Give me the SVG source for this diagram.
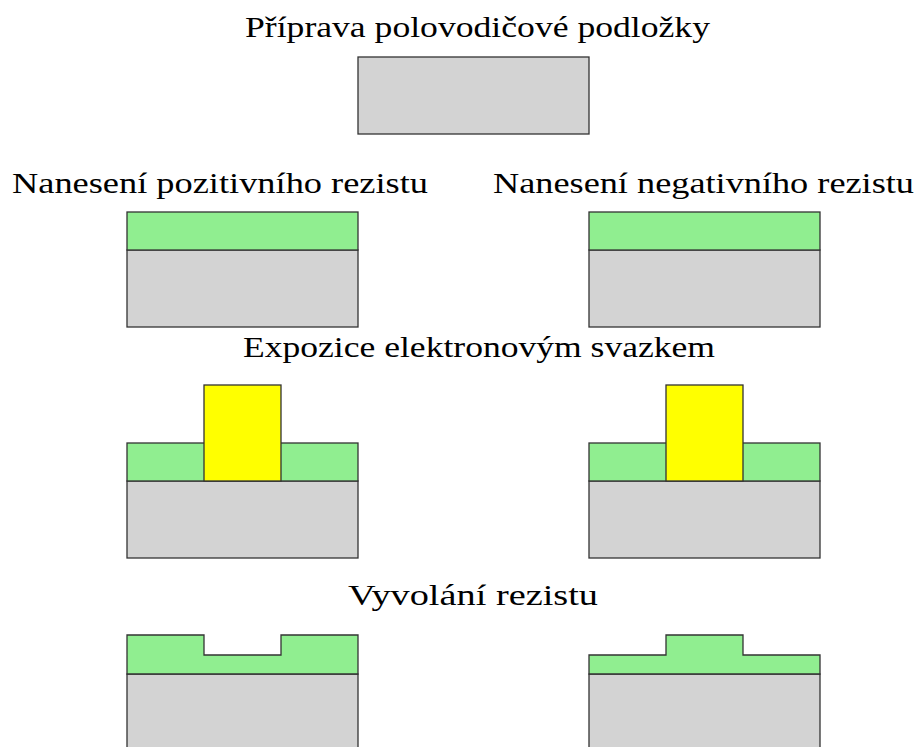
<svg xmlns="http://www.w3.org/2000/svg" width="920" height="747" viewBox="0 0 920 747">
<style>
.t{font-family:"Liberation Serif","DejaVu Serif",serif;font-size:30px;fill:#000}
.sub{fill:#d3d3d3;stroke:#333;stroke-width:1.3}
.res{fill:#90ee90;stroke:#333;stroke-width:1.3}
.msk{fill:#ffff00;stroke:#333;stroke-width:1.3}
</style>
<rect width="920" height="747" fill="#fff"/>
<g id="step1">
<text class="t" x="245" y="37" textLength="465" lengthAdjust="spacingAndGlyphs">Příprava polovodičové podložky</text>
<rect class="sub" x="358" y="57" width="231" height="77"/>
</g>
<g id="step2-positive">
<text class="t" x="12" y="193" textLength="416" lengthAdjust="spacingAndGlyphs">Nanesení pozitivního rezistu</text>
<rect class="sub" x="127" y="250" width="231" height="77"/>
<rect class="res" x="127" y="212" width="231" height="38"/>
</g>
<g id="step2-negative">
<text class="t" x="493" y="193" textLength="421" lengthAdjust="spacingAndGlyphs">Nanesení negativního rezistu</text>
<rect class="sub" x="589" y="250" width="231" height="77"/>
<rect class="res" x="589" y="212" width="231" height="38"/>
</g>
<g id="step3-label">
<text class="t" x="243" y="357" textLength="472" lengthAdjust="spacingAndGlyphs">Expozice elektronovým svazkem</text>
</g>
<g id="step3-positive">
<rect class="sub" x="127" y="481" width="231" height="77"/>
<rect class="res" x="127" y="443" width="231" height="38"/>
<rect class="msk" x="204" y="385" width="77" height="96"/>
</g>
<g id="step3-negative">
<rect class="sub" x="589" y="481" width="231" height="77"/>
<rect class="res" x="589" y="443" width="231" height="38"/>
<rect class="msk" x="666" y="385" width="77" height="96"/>
</g>
<g id="step4-label">
<text class="t" x="348" y="605" textLength="250" lengthAdjust="spacingAndGlyphs">Vyvolání rezistu</text>
</g>
<g id="step4-positive">
<rect class="sub" x="127" y="674" width="231" height="77"/>
<path class="res" d="M127,635 H204 V655 H281 V635 H358 V674 H127 Z"/>
</g>
<g id="step4-negative">
<rect class="sub" x="589" y="674" width="231" height="77"/>
<path class="res" d="M589,655 H666 V635 H743 V655 H820 V674 H589 Z"/>
</g>
<g id="connectors"></g>
</svg>
